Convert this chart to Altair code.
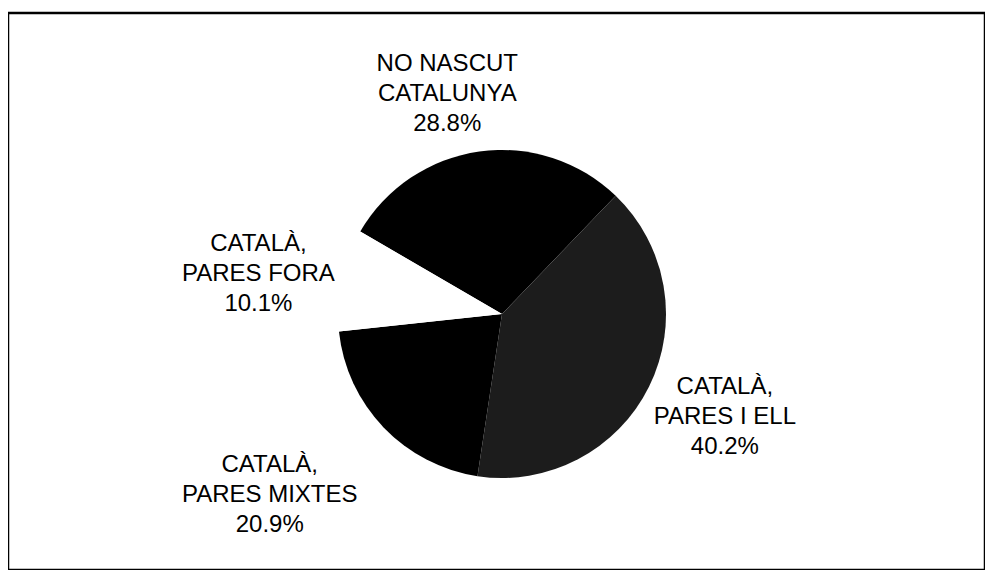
import altair as alt
import pandas as pd
import math

# ---- data ----
categories = ["NO NASCUT CATALUNYA", "CATALÀ, PARES I ELL", "CATALÀ, PARES MIXTES", "CATALÀ, PARES FORA"]
label_lines = ["NO NASCUT\nCATALUNYA", "CATALÀ,\nPARES I ELL", "CATALÀ,\nPARES MIXTES", "CATALÀ,\nPARES FORA"]
values = [28.8, 40.2, 20.9, 10.1]
pct_labels = ["28.8%", "40.2%", "20.9%", "10.1%"]
colors = ["#000000", "#1c1c1c", "#000000", "#ffffff"]

df = pd.DataFrame({
    "order": list(range(len(categories))),
    "cat": categories,
    "value": values,
    "label": [l + "\n" + p for l, p in zip(label_lines, pct_labels)],
})

# ---- layout ----
W, H = 977, 557
CX, CY = 494, 301          # pie centre inside the view
R = 164
START = math.radians(300.2)
FONT = "Liberation Sans"
# per-label: radius, dx, dy
LABEL_LAYOUT = {
    "NO NASCUT CATALUNYA": (229, -23, -23),
    "CATALÀ, PARES I ELL": (244, 4, -35),
    "CATALÀ, PARES MIXTES": (294, -20, -52),
    "CATALÀ, PARES FORA": (247, -2, -19),
}

theta_scale = alt.Scale(domain=[0, 100], range=[START, START + 2 * math.pi])

base = alt.Chart(df).transform_window(
    cum="sum(value)", sort=[{"field": "order"}], frame=[None, 0]
).transform_calculate(
    start="datum.cum - datum.value",
    mid="datum.cum - datum.value / 2",
)

arcs = base.mark_arc(radius=R, strokeWidth=0).encode(
    theta=alt.Theta("start:Q", scale=theta_scale),
    theta2="cum:Q",
    color=alt.Color("cat:N", scale=alt.Scale(domain=categories, range=colors), legend=None),
    x=alt.value(CX),
    y=alt.value(CY),
)

layers = [arcs]
for cat in categories:
    r, dx, dy = LABEL_LAYOUT[cat]
    layers.append(
        base.transform_filter(alt.datum.cat == cat).mark_text(
            radius=r, dx=dx, dy=dy, font=FONT, fontSize=24, lineHeight=30,
            lineBreak="\n", align="center", baseline="middle", color="black",
        ).encode(
            theta=alt.Theta("mid:Q", scale=theta_scale),
            text="label:N",
            x=alt.value(CX),
            y=alt.value(CY),
        )
    )

chart = alt.layer(*layers).properties(
    width=W, height=H,
    padding={"left": 0, "top": 5, "right": 0, "bottom": 0},
).configure(
    background="white",
    view=alt.ViewConfig(stroke="black", strokeWidth=2.5),
)

chart.save("out.html", embed_options={"renderer": "svg", "actions": False})
